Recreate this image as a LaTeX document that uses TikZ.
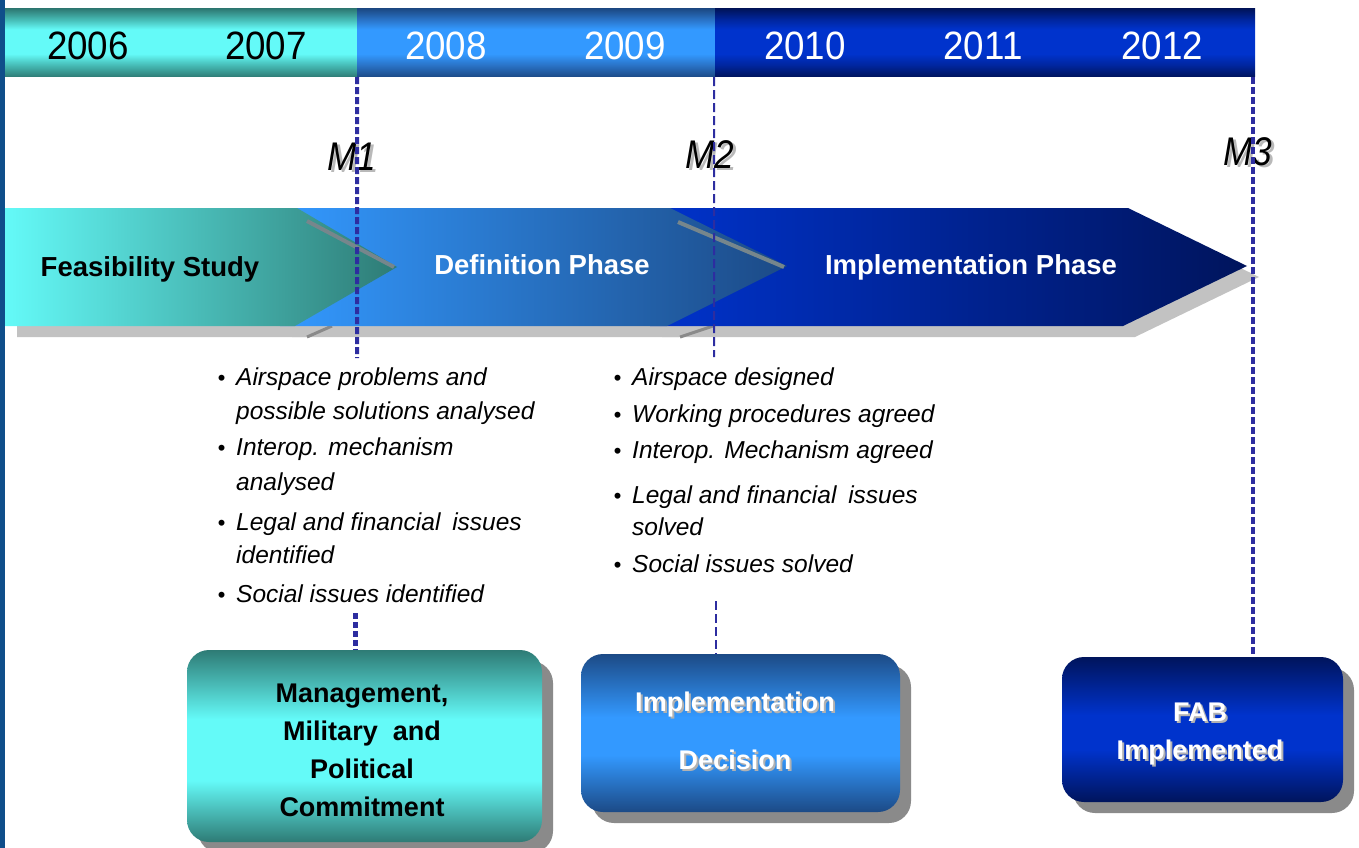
\documentclass[tikz,border=0pt]{standalone}
\usepackage{fontspec}
\setmainfont{Liberation Sans}
\newfontfamily\yearfont[FakeStretch=0.93]{Liberation Sans}
\newfontfamily\msfont[FakeStretch=0.88]{Liberation Sans}
% font size and line distance, in pt
\newcommand{\setfs}[2]{\fontsize{#1}{#2}\selectfont}

% colours
\definecolor{bordercol}{HTML}{0F4E8A}
\definecolor{tealD}{HTML}{2E7B75}
\definecolor{tealM}{HTML}{47BDB7}
\definecolor{tealL}{HTML}{64FAF8}
\definecolor{blueD}{HTML}{1C4A86}
\definecolor{blueM}{HTML}{2A74C8}
\definecolor{blueL}{HTML}{3399FF}
\definecolor{navyD}{HTML}{00145C}
\definecolor{navyM}{HTML}{0026A0}
\definecolor{navyL}{HTML}{0033CC}
\definecolor{mcol}{HTML}{2D2DA0}
\definecolor{shadowlt}{HTML}{C2C2C2}
\definecolor{shadowdk}{HTML}{8A8A8A}
\definecolor{bandgray}{HTML}{76868C}

% vertical shadings for the year bar (bottom to top)
\pgfdeclareverticalshading{barteal}{100bp}{color(0bp)=(tealD); color(25bp)=(tealD); color(34bp)=(tealM); color(42bp)=(tealL); color(60bp)=(tealL); color(67bp)=(tealM); color(75bp)=(tealD); color(100bp)=(tealD)}
\pgfdeclareverticalshading{barblue}{100bp}{color(0bp)=(blueD); color(25bp)=(blueD); color(34bp)=(blueM); color(42bp)=(blueL); color(60bp)=(blueL); color(67bp)=(blueM); color(75bp)=(blueD); color(100bp)=(blueD)}
\pgfdeclareverticalshading{barnavy}{100bp}{color(0bp)=(navyD); color(25bp)=(navyD); color(34bp)=(navyM); color(42bp)=(navyL); color(60bp)=(navyL); color(67bp)=(navyM); color(75bp)=(navyD); color(100bp)=(navyD)}
% vertical shadings for the milestone boxes
\pgfdeclareverticalshading{boxteal}{100bp}{color(0bp)=(tealD); color(25bp)=(tealD); color(41bp)=(tealL); color(57bp)=(tealL); color(75bp)=(tealD); color(100bp)=(tealD)}
\pgfdeclareverticalshading{boxblue}{100bp}{color(0bp)=(blueD); color(25bp)=(blueD); color(43bp)=(blueL); color(55bp)=(blueL); color(75bp)=(blueD); color(100bp)=(blueD)}
\pgfdeclareverticalshading{boxnavy}{100bp}{color(0bp)=(navyD); color(25bp)=(navyD); color(43bp)=(navyL); color(55bp)=(navyL); color(75bp)=(navyD); color(100bp)=(navyD)}

% phase arrow outlines
\newcommand{\pathFeas}{(5,208) -- (297,208) -- (397,267) -- (295,326) -- (5,326) -- cycle}
\newcommand{\pathDefn}{(280,208) -- (670,208) -- (787,266) -- (667,326) -- (280,326) -- cycle}
\newcommand{\pathImpl}{(650,208) -- (1128,208) -- (1247,266) -- (1123,326) -- (650,326) -- cycle}
% bullet in front of an achievement
\newcommand{\bt}{\llap{\setfs{22}{22}\textbullet\hspace{11pt}}}

\begin{document}
\begin{tikzpicture}[x=1pt,y=-1pt,
  barseg/.style={shade, draw=none, inner sep=0pt, minimum height=68pt},
  year/.style={font=\yearfont\setfs{39.5}{42}, anchor=base, inner sep=0pt},
  mlabel/.style={font=\msfont\itshape\setfs{40}{42}, anchor=base, inner sep=0pt},
  mshadow/.style={mlabel, text=gray!55},
  phase/.style={font=\bfseries\setfs{27.5}{30}, anchor=base, inner sep=0pt},
  bul/.style={font=\itshape\setfs{24.5}{28}, anchor=base west, inner sep=0pt},
  mline/.style={draw=mcol, line width=4pt, dash pattern=on 7pt off 3pt},
  mthin/.style={draw=mcol, line width=2pt, dash pattern=on 9pt off 4pt},
  msbox/.style={shade, rounded corners=22pt, draw=none, inner sep=0pt},
  msshadow/.style={fill=shadowdk, rounded corners=22pt, draw=none, inner sep=0pt},
  boxtxt/.style={font=\bfseries\setfs{27}{38}, align=center, inner sep=0pt},
  widetxt/.style={font=\bfseries\setfs{27}{58}},
  boxtxtw/.style={boxtxt, text=white},
  boxtxts/.style={boxtxt, text=gray!60},
]
\useasboundingbox (0,0) rectangle (1359,848);

% left border
\fill[bordercol] (0,0) rectangle (5,848);

% ---- year bar ----
\node[barseg, shading=barteal, minimum width=352pt] (seg1) at (181,43) {};
\node[barseg, shading=barblue, minimum width=358pt] (seg2) at (536,43) {};
\node[barseg, shading=barnavy, minimum width=540pt] (seg3) at (985,43) {};

\node[year] (y2006) at (88,60)  {2006};
\node[year] (y2007) at (266,60) {2007};
\node[year, text=white] (y2008) at (446,60)  {2008};
\node[year, text=white] (y2009) at (625,60)  {2009};
\node[year, text=white] (y2010) at (805,60)  {2010};
\node[year, text=white] (y2011) at (983,60)  {2011};
\node[year, text=white] (y2012) at (1162,60) {2012};

% ---- milestone labels ----
\node[mshadow] (m1s) at (354.5,172.5) {M1};
\node[mlabel]  (m1)  at (352,170) {M1};
\node[mshadow] (m2s) at (712.5,170.5) {M2};
\node[mlabel]  (m2)  at (710,168) {M2};
\node[mshadow] (m3s) at (1250.5,167.5) {M3};
\node[mlabel]  (m3)  at (1248,165) {M3};

% ---- phase arrows ----
\fill[shadowlt, shift={(12,11)}] \pathImpl;
\fill[shadowlt, shift={(12,11)}] \pathDefn;
\fill[shadowlt, shift={(12,11)}] \pathFeas;
\draw[shadowdk, line width=3pt] (307,337) -- (332,326);
\draw[shadowdk, line width=3pt] (680,337) -- (713,326);

\shade[left color=navyL, middle color=navyL!92!black, right color=navyD] \pathImpl;
\shade[left color=blueL, middle color=blueL!85!blueD, right color=blueD] \pathDefn;
\draw[bandgray, line width=4pt] (678,222) -- (784,267);
\shade[left color=tealL, middle color=tealL!55!tealD, right color=tealD] \pathFeas;
\draw[bandgray, line width=4pt] (307,221) -- (394,267);

\node[phase] (feas) at (150,276) {Feasibility Study};
\node[phase, text=white] (defn) at (542,274) {Definition Phase};
\node[phase, text=white] (impl) at (971,274) {Implementation Phase};

% ---- milestone boxes ----
\node[msshadow, minimum width=355pt, minimum height=192pt] (box1s) at (375.5,757) {};
\node[msbox, shading=boxteal, minimum width=355pt, minimum height=192pt] (box1) at (364.5,746) {};
\node[msshadow, minimum width=319pt, minimum height=158pt] (box2s) at (751.5,744) {};
\node[msbox, shading=boxblue, minimum width=319pt, minimum height=158pt] (box2) at (740.5,733) {};
\node[msshadow, minimum width=281pt, minimum height=145pt] (box3s) at (1213.5,740.5) {};
\node[msbox, shading=boxnavy, minimum width=281pt, minimum height=145pt] (box3) at (1202.5,729.5) {};

\node[boxtxt] (box1t) at (362,750) {Management,\\Military\ \ and\\Political\\Commitment};
\node[boxtxts, widetxt] (box2ts) at (737,733) {Implementation\\Decision};
\node[boxtxtw, widetxt] (box2t) at (735,731) {Implementation\\Decision};
\node[boxtxts] (box3ts) at (1202,736) {FAB\\Implemented};
\node[boxtxtw] (box3t) at (1200,734) {FAB\\Implemented};

% ---- milestone lines ----
\coordinate (m1b) at (357,358);
\coordinate (m1c) at (355,613);
\coordinate (m2b) at (714,357);
\coordinate (m2c) at (716,601);
\coordinate (m3a) at (1253,77);
\draw[mline] (seg1.south east) -- (m1b);
\draw[mline, line width=5pt, dash pattern=on 6pt off 3pt] (m1c) -- (m1c |- box1.north);
\draw[mthin] ([xshift=-1pt]seg2.south east) -- (m2b);
\draw[mthin] (m2c) -- (m2c |- box2.north);
\draw[mline] (m3a) -- (m3a |- box3.north);

% ---- achievements ----
\node[bul] (a1) at (236,385) {\bt Airspace problems and};
\node[bul] (a1b) at (236,419) {possible solutions analysed};
\node[bul] (a2) at (236,455) {\bt Interop. mechanism};
\node[bul] (a2b) at (236,490) {analysed};
\node[bul] (a3) at (236,530) {\bt Legal and financial\hspace{5pt} issues};
\node[bul] (a3b) at (236,563) {identified};
\node[bul] (a4) at (236,602) {\bt Social issues identified};

\node[bul] (b1) at (632,385) {\bt Airspace designed};
\node[bul] (b2) at (632,422) {\bt Working procedures agreed};
\node[bul] (b3) at (632,458) {\bt Interop. Mechanism agreed};
\node[bul] (b4) at (632,503) {\bt Legal and financial\hspace{5pt} issues};
\node[bul] (b4b) at (632,535) {solved};
\node[bul] (b5) at (632,572) {\bt Social issues solved};
\end{tikzpicture}
\end{document}
